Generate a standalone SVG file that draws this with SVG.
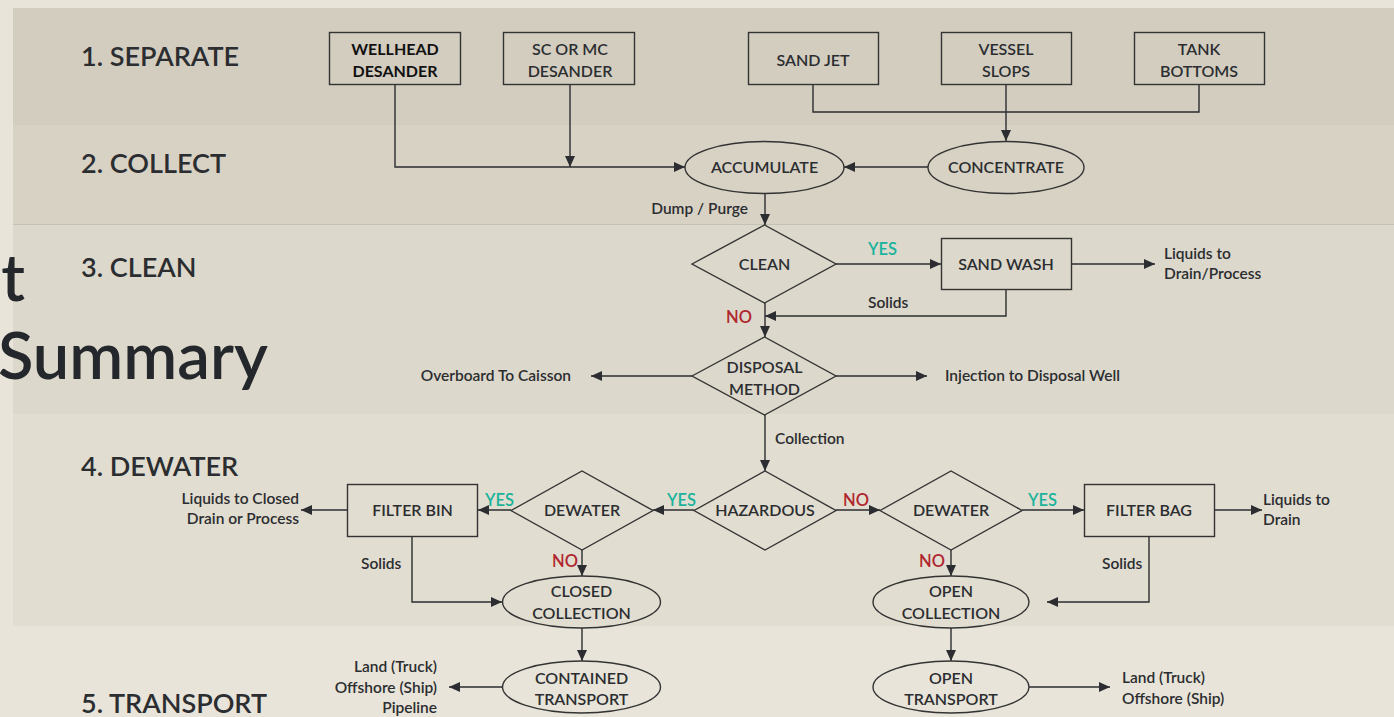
<svg xmlns="http://www.w3.org/2000/svg" width="1394" height="717" viewBox="0 0 1394 717">
<defs>
<marker id="arr" markerUnits="userSpaceOnUse" markerWidth="11" markerHeight="10" refX="11" refY="5" orient="auto">
<path d="M0,0 L11,5 L0,10 z" fill="#2b2d30"/>
</marker>
<style>
.stage{font-family:Lato,"Open Sans",sans-serif;font-weight:600;font-size:27px;fill:#2b2d30}
.big{font-family:Lato,"Open Sans",sans-serif;font-weight:600;font-size:65px;fill:#24272b}
.shape{fill:none;stroke:#333;stroke-width:1.4}
.nt{font-family:Lato,"Open Sans",sans-serif;font-weight:600;font-size:16px;fill:#2b2d30;text-anchor:middle}
.lbl{font-family:Lato,"Open Sans",sans-serif;font-weight:600;font-size:15.5px;fill:#2b2d30}
.yes{font-family:Lato,"Open Sans",sans-serif;font-weight:600;font-size:16.5px;fill:#1ab39b}
.no{font-family:Lato,"Open Sans",sans-serif;font-weight:600;font-size:16.5px;fill:#b0262e}
.c{fill:none;stroke:#2b2d30;stroke-width:1.4}
.a{marker-end:url(#arr)}
</style>
</defs>
<rect x="0" y="0" width="1394" height="717" fill="#e8e4d9"/>
<g id="bands">
<rect x="13" y="8" width="1381" height="117" fill="#d3cdc0"/>
<rect x="13" y="125" width="1381" height="99" fill="#d8d2c5"/>
<rect x="13" y="224" width="1381" height="190" fill="#dcd8cb"/>
<line x1="13" y1="224.5" x2="1394" y2="224.5" stroke="#c6c1b5" stroke-width="1"/>
<rect x="13" y="414" width="1381" height="212" fill="#e2ddd1"/>
</g>
<g id="title">
<text class="big" x="25" y="301" text-anchor="end">t</text>
<text class="big" x="-2" y="379">Summary</text>
</g>
<g id="stages">
<text class="stage" x="81" y="66">1. SEPARATE</text>
<text class="stage" x="81" y="173">2. COLLECT</text>
<text class="stage" x="81" y="277">3. CLEAN</text>
<text class="stage" x="81" y="476">4. DEWATER</text>
<text class="stage" x="81" y="713">5. TRANSPORT</text>
</g>
<g id="connectors">
<polyline class="c a" points="395,84 395,167 685,167"/>
<polyline class="c a" points="570,84 570,167"/>
<polyline class="c" points="813,84 813,112 1199,112 1199,84"/>
<polyline class="c a" points="1006,84 1006,141"/>
<polyline class="c a" points="928,167 844,167"/>
<polyline class="c a" points="765,193 765,225"/>
<polyline class="c a" points="836,264 941,264"/>
<polyline class="c a" points="1071,264 1155,264"/>
<polyline class="c a" points="1006,290 1006,316 765,316"/>
<polyline class="c a" points="765,303 765,337"/>
<polyline class="c a" points="692,376 591,376"/>
<polyline class="c a" points="836,376 927,376"/>
<polyline class="c a" points="765,415 765,471"/>
<polyline class="c a" points="694,510 653,510"/>
<polyline class="c a" points="511,510 478,510"/>
<polyline class="c a" points="347,510 301,510"/>
<polyline class="c a" points="412,537 412,602 502,602"/>
<polyline class="c a" points="582,550 582,576"/>
<polyline class="c a" points="582,628 582,661"/>
<polyline class="c a" points="503,687 449,687"/>
<polyline class="c a" points="836,510 880,510"/>
<polyline class="c a" points="1022,510 1084,510"/>
<polyline class="c a" points="1214,510 1262,510"/>
<polyline class="c a" points="1149,537 1149,602 1047,602"/>
<polyline class="c a" points="951,550 951,576"/>
<polyline class="c a" points="951,628 951,661"/>
<polyline class="c a" points="1029,687 1110,687"/>
</g>
<g id="edge-labels">
<text class="lbl" x="748" y="214" text-anchor="end">Dump / Purge</text>
<text class="yes" x="868" y="255">YES</text>
<text class="lbl" x="868" y="308">Solids</text>
<text class="no" x="726" y="323">NO</text>
<text class="lbl" x="1164" y="259">Liquids to<tspan x="1164" dy="20">Drain/Process</tspan></text>
<text class="lbl" x="571" y="381" text-anchor="end">Overboard  To Caisson</text>
<text class="lbl" x="945" y="381">Injection to Disposal Well</text>
<text class="lbl" x="775" y="444">Collection</text>
<text class="yes" x="667" y="506">YES</text>
<text class="yes" x="485" y="506">YES</text>
<text class="lbl" x="299" y="504" text-anchor="end">Liquids to Closed<tspan x="299" dy="20">Drain or Process</tspan></text>
<text class="lbl" x="361" y="569">Solids</text>
<text class="no" x="552" y="567">NO</text>
<text class="lbl" x="437" y="672" text-anchor="end">Land (Truck)<tspan x="437" dy="20.5">Offshore (Ship)</tspan><tspan x="437" dy="20">Pipeline</tspan></text>
<text class="no" x="843" y="506">NO</text>
<text class="yes" x="1028" y="506">YES</text>
<text class="lbl" x="1263" y="505">Liquids to<tspan x="1263" dy="20">Drain</tspan></text>
<text class="lbl" x="1102" y="569">Solids</text>
<text class="no" x="919" y="567">NO</text>
<text class="lbl" x="1122" y="683">Land (Truck)<tspan x="1122" dy="21">Offshore (Ship)</tspan></text>
</g>
<g id="wellhead-desander">
<rect class="shape" x="329.5" y="32.5" width="131" height="52"/>
<text class="nt" x="395" y="55" style="fill:#111;font-weight:700">WELLHEAD<tspan x="395" dy="22">DESANDER</tspan></text>
</g>
<g id="sc-mc-desander">
<rect class="shape" x="503.5" y="32.5" width="131" height="52"/>
<text class="nt" x="570" y="55">SC OR MC<tspan x="570" dy="22">DESANDER</tspan></text>
</g>
<g id="sand-jet">
<rect class="shape" x="748.5" y="32.5" width="130" height="52"/>
<text class="nt" x="813" y="66">SAND JET</text>
</g>
<g id="vessel-slops">
<rect class="shape" x="941.5" y="32.5" width="130" height="52"/>
<text class="nt" x="1006" y="55">VESSEL<tspan x="1006" dy="22">SLOPS</tspan></text>
</g>
<g id="tank-bottoms">
<rect class="shape" x="1134.5" y="32.5" width="130" height="52"/>
<text class="nt" x="1199" y="55">TANK<tspan x="1199" dy="22">BOTTOMS</tspan></text>
</g>
<g id="accumulate">
<ellipse class="shape" cx="764.5" cy="167.5" rx="79.5" ry="26"/>
<text class="nt" x="764.5" y="173">ACCUMULATE</text>
</g>
<g id="concentrate">
<ellipse class="shape" cx="1006" cy="167.5" rx="78" ry="26"/>
<text class="nt" x="1006" y="173">CONCENTRATE</text>
</g>
<g id="clean">
<polygon class="shape" points="692,264 764.5,225 836,264 764.5,303"/>
<text class="nt" x="764.5" y="270">CLEAN</text>
</g>
<g id="sand-wash">
<rect class="shape" x="941.5" y="238.5" width="130" height="51"/>
<text class="nt" x="1006" y="270">SAND WASH</text>
</g>
<g id="disposal-method">
<polygon class="shape" points="692,376 764.5,337 836,376 764.5,415"/>
<text class="nt" x="764.5" y="373">DISPOSAL<tspan x="764.5" dy="22">METHOD</tspan></text>
</g>
<g id="hazardous">
<polygon class="shape" points="694,510.5 765,471 836,510.5 765,550"/>
<text class="nt" x="765" y="516">HAZARDOUS</text>
</g>
<g id="dewater-left">
<polygon class="shape" points="511,510.5 582,471 653,510.5 582,550"/>
<text class="nt" x="582" y="516">DEWATER</text>
</g>
<g id="filter-bin">
<rect class="shape" x="347.5" y="484.5" width="130" height="52"/>
<text class="nt" x="412.5" y="516">FILTER BIN</text>
</g>
<g id="closed-collection">
<ellipse class="shape" cx="581.5" cy="602" rx="79" ry="26"/>
<text class="nt" x="581.5" y="597">CLOSED<tspan x="581.5" dy="22">COLLECTION</tspan></text>
</g>
<g id="contained-transport">
<ellipse class="shape" cx="581.5" cy="687" rx="79" ry="26"/>
<text class="nt" x="581.5" y="684">CONTAINED<tspan x="581.5" dy="21">TRANSPORT</tspan></text>
</g>
<g id="dewater-right">
<polygon class="shape" points="880,510.5 951,471 1022,510.5 951,550"/>
<text class="nt" x="951" y="516">DEWATER</text>
</g>
<g id="filter-bag">
<rect class="shape" x="1084.5" y="484.5" width="130" height="52"/>
<text class="nt" x="1149" y="516">FILTER BAG</text>
</g>
<g id="open-collection">
<ellipse class="shape" cx="951" cy="602" rx="78" ry="26"/>
<text class="nt" x="951" y="597">OPEN<tspan x="951" dy="22">COLLECTION</tspan></text>
</g>
<g id="open-transport">
<ellipse class="shape" cx="951" cy="687" rx="78" ry="26"/>
<text class="nt" x="951" y="684">OPEN<tspan x="951" dy="21">TRANSPORT</tspan></text>
</g>
</svg>
